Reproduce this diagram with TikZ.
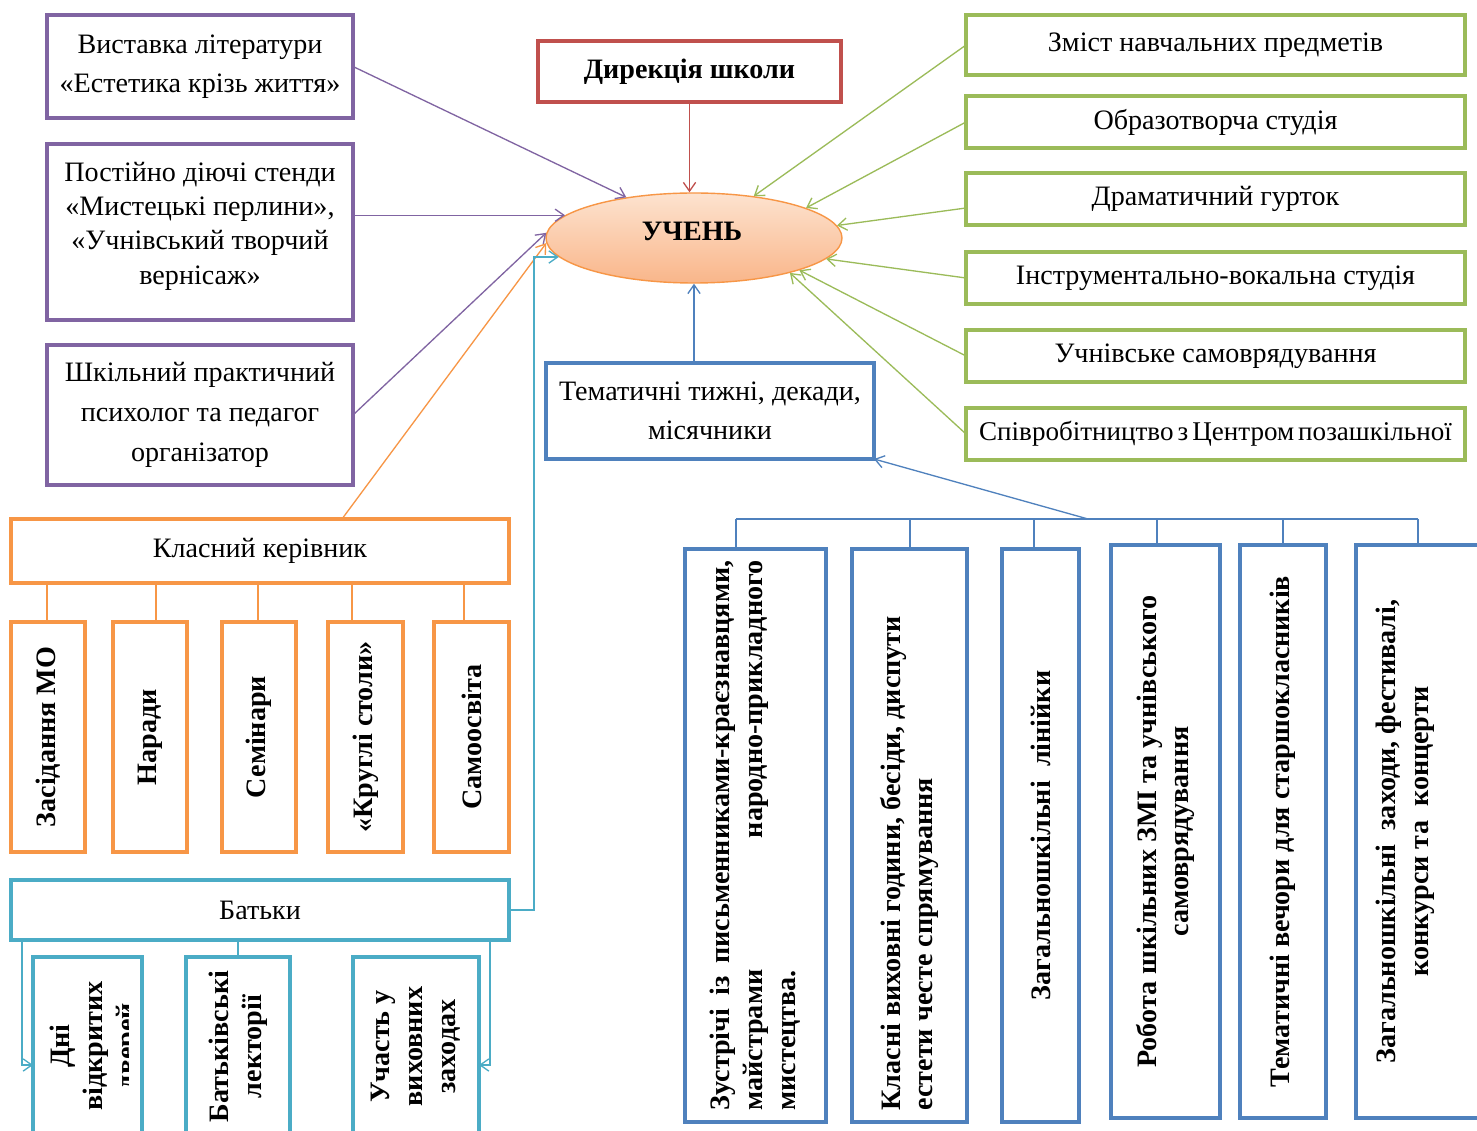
\documentclass[tikz,border=0pt]{standalone}
\usepackage{fontspec}
\setmainfont{Liberation Serif}
\usepackage{graphicx}
\usetikzlibrary{shapes.geometric,arrows.meta,calc}
\definecolor{cpurple}{HTML}{8064A2}
\definecolor{cred}{HTML}{C0504D}
\definecolor{cgreen}{HTML}{9BBB59}
\definecolor{corange}{HTML}{F79646}
\definecolor{cblue}{HTML}{4F81BD}
\definecolor{ccyan}{HTML}{4BACC6}
\definecolor{etop}{HTML}{FDE3CF}
\definecolor{ebot}{HTML}{F9B68A}
\begin{document}
\begin{tikzpicture}[x=0.02cm,y=-0.02cm,
  bw/.style={minimum width=#1*0.02cm},
  bh/.style={minimum height=#1*0.02cm},
  box/.style={draw=#1, line width=1.9pt, inner sep=0pt, outer sep=0pt, align=center, fill=white, font=\fontsize{16}{22}\selectfont},
  vtext/.style={font=\bfseries\fontsize{16}{18.7}\selectfont},
  conn/.style={draw=#1, line width=0.75pt},
  arr/.style={draw=#1, line width=0.75pt, -{Straight Barb[length=5pt,width=7pt]}},
]
\clip (0,0) rectangle (1477,1131);
\fill[white] (0,0) rectangle (1477,1131);

% purple boxes
\node[box=cpurple, bw=306, bh=103] (p1) at (200,66.5) {Виставка літератури\\«Естетика крізь життя»};
\node[box=cpurple, bw=306, bh=176] (p2) at (200,232) {};
\node[align=center, inner sep=0pt, font=\fontsize{16}{19.5}\selectfont] (p2t) at (200,226) {Постійно діючі стенди\\«Мистецькі перлини»,\\«Учнівський творчий\\вернісаж»};
\node[box=cpurple, bw=306, bh=140, font=\fontsize{16}{22.7}\selectfont] (p3) at (200,415) {Шкільний практичний\\психолог та педагог\\організатор};

% direction
\node[box=cred, bw=303, bh=61, font=\bfseries\fontsize{16}{22}\selectfont] (r) at (689.5,71.5) {Дирекція школи};

% pupil
\node[ellipse, draw=corange, line width=0.8pt, top color=etop, bottom color=ebot,
  minimum width=296*0.02cm, minimum height=90*0.02cm, inner sep=0pt] (u) at (694,238) {};
\node[inner sep=0pt, font=\bfseries\fontsize{16}{22}\selectfont] (ut) at (692,231) {УЧЕНЬ};

% thematic weeks
\node[box=cblue, bw=328, bh=96] (t) at (710,411) {Тематичні тижні, декади,\\місячники};

% green boxes
\node[box=cgreen, bw=499, bh=60] (g1) at (1215.5,45) {Зміст навчальних предметів};
\node[box=cgreen, bw=499, bh=52] (g2) at (1215.5,122) {Образотворча студія};
\node[box=cgreen, bw=499, bh=52] (g3) at (1215.5,199) {Драматичний гурток};
\node[box=cgreen, bw=499, bh=52] (g4) at (1215.5,278) {Інструментально-вокальна студія};
\node[box=cgreen, bw=499, bh=52] (g5) at (1215.5,356) {Учнівське самоврядування};
\node[box=cgreen, bw=499, bh=52, font=\fontsize{15.4}{22}\selectfont] (g6) at (1215.5,434) {\spaceskip=0.15em\relax Співробітництво з Центром позашкільної};

% class teacher
\node[box=corange, bw=498, bh=64] (kk) at (260,551) {Класний керівник};
\node[box=corange, bw=74, bh=230, vtext] (o1) at (48,737) {\rotatebox{90}{Засідання МО}};
\node[box=corange, bw=74, bh=230, vtext] (o2) at (150,737) {\rotatebox{90}{Наради}};
\node[box=corange, bw=74, bh=230, vtext] (o3) at (259,737) {\rotatebox{90}{Семінари}};
\node[box=corange, bw=75, bh=230, vtext] (o4) at (365.5,737) {\rotatebox{90}{«Круглі столи»}};
\node[box=corange, bw=75, bh=230, vtext] (o5) at (471.5,737) {\rotatebox{90}{Самоосвіта}};

% parents
\node[box=ccyan, bw=498, bh=60] (bat) at (260,910) {Батьки};
\node[box=ccyan, bw=109, bh=179] (e1) at (87.5,1046.5) {};
\begin{scope}
\clip (33,957) rectangle (128,1140);
\node[vtext, inner sep=0pt] (e1t) at (96,1046) {\rotatebox{90}{\parbox{3cm}{\centering Дні\\відкритих\\дверей}}};
\end{scope}
\node[box=ccyan, bw=104, bh=179, vtext] (e2) at (238,1046.5) {\rotatebox{90}{\parbox{3.4cm}{\centering Батьківські\\лекторії}}};
\node[box=ccyan, bw=126, bh=179, vtext] (e3) at (416,1046.5) {\rotatebox{90}{\parbox{3.4cm}{\centering Участь у\\виховних\\заходах}}};

% bottom right boxes
\node[box=cblue, bw=141, bh=573, vtext] (b1) at (755.5,835.5) {\rotatebox{90}{\parbox{11cm}{Зустрічі\hfill із\hfill \mbox{письменниками-краєзнавцями,}\\ майстрами\hfill \mbox{народно-прикладного}\\ мистецтва.}}};
\node[box=cblue, bw=115, bh=573, vtext] (b2) at (909.5,835.5) {\rotatebox{90}{\parbox{11cm}{\raggedright Класні виховні години, бесіди, диспути\\ естети честе спрямування}}};
\node[box=cblue, bw=77, bh=573, vtext] (b3) at (1040.5,835.5) {\rotatebox{90}{Загальношкільні\ \ лінійки}};
\node[box=cblue, bw=109, bh=573, vtext] (b4) at (1165.5,831.5) {\rotatebox{90}{\parbox{11cm}{\centering Робота шкільних ЗМІ та учнівського\\самоврядування}}};
\node[box=cblue, bw=86, bh=573, vtext] (b5) at (1283,831.5) {\rotatebox{90}{Тематичні вечори для старшокласників}};
\node[box=cblue, bw=144, bh=573] (b6) at (1428,831.5) {};
\node[vtext, inner sep=0pt] (b6t) at (1405,831.5) {\rotatebox{90}{\parbox{11cm}{\centering Загальношкільні\ \ заходи, фестивалі,\\конкурси та\ \ концерти}}};

% connectors to pupil
\draw[arr=cred] (r.south) -- (r.south |- u.north);
\draw[arr=cblue] (u.south |- t.north) -- (u.south);
\draw[arr=cpurple] (p1.east) -- (u.149);
\draw[arr=cpurple] (p2.east |- u.170) -- (u.170);
\draw[arr=cpurple] (p3.east) -- (u.178);
\draw[arr=corange] ([xshift=1.64cm]kk.north) -- (u.182);
\draw[arr=ccyan] (bat.east) -- ++(25,0) |- (u.188);
\draw[arr=cgreen] (g1.west) -- (u.35);
\draw[arr=cgreen] (g2.west) -- (u.15);
\draw[arr=cgreen] ([yshift=-0.18cm]g3.west) -- (u.5);
\draw[arr=cgreen] (g4.west) -- (u.-9);
\draw[arr=cgreen] (g5.west) -- (u.-17);
\draw[arr=cgreen] (g6.west) -- (u.-20);

% class teacher tree
\foreach \xx/\nn in {47/o1,156/o2,258/o3,352/o4,464/o5}{
  \coordinate (k\nn) at (\xx,600);
  \draw[conn=corange] (kk.south -| k\nn) -- (\nn.north -| k\nn);
}

% parents tree
\coordinate (el) at (22,1065);
\coordinate (er) at (490,1065);
\draw[arr=ccyan] (bat.south -| el) -- (el) -- (e1.west |- el);
\draw[arr=ccyan] (bat.south -| er) -- (er) -- (e3.east |- er);
\draw[conn=ccyan] (bat.south -| e2.north) -- (e2.north);

% bottom right tree
\coordinate (d1) at (736,519);
\coordinate (d2) at (910,519);
\coordinate (d3) at (1034,519);
\coordinate (d4) at (1157,519);
\coordinate (d5) at (1283,519);
\coordinate (d6) at (1418,519);
\coordinate (bm) at (1088,519);
\draw[conn=cblue] (d1) -- (d6);
\foreach \i in {1,...,6}{ \draw[conn=cblue] (d\i) -- (d\i |- b\i.north); }
\draw[arr=cblue] (bm) -- (t.south east);
\end{tikzpicture}
\end{document}
